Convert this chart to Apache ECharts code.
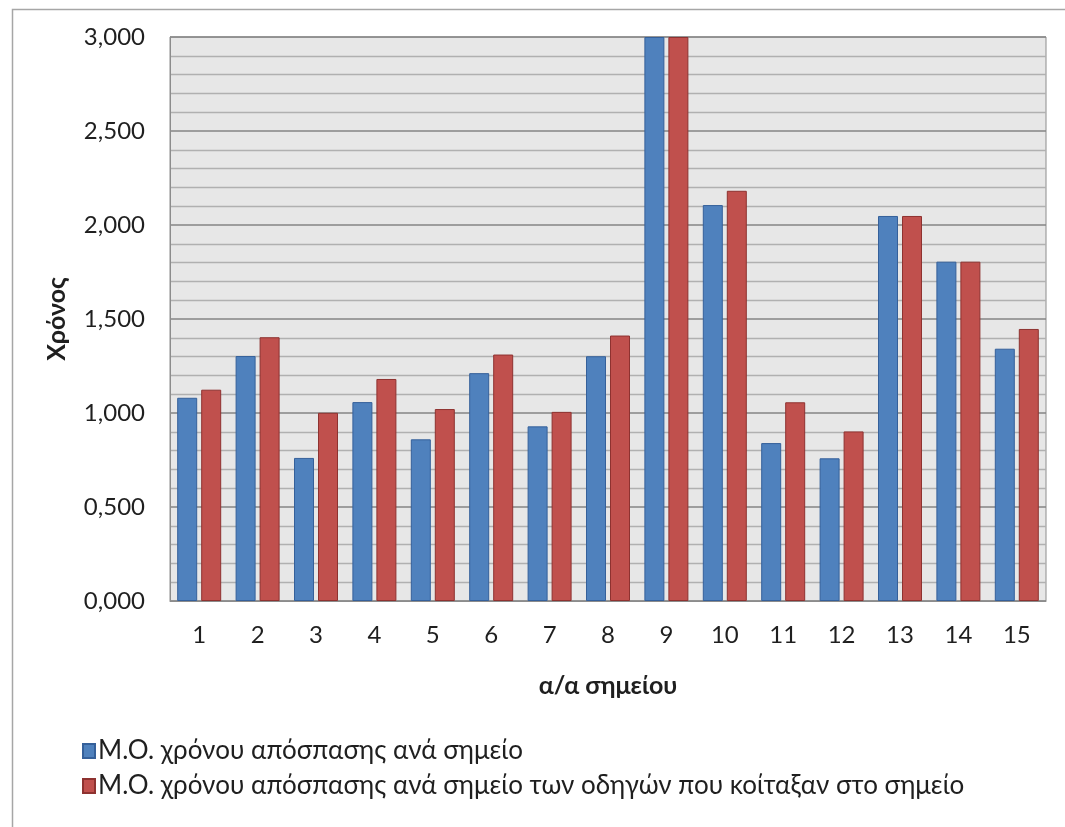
<!DOCTYPE html>
<html>
<head>
<meta charset="utf-8">
<style>
  html, body { margin: 0; padding: 0; background: #ffffff; }
  #chart { width: 1065px; height: 827px; }
</style>
<script src="https://cdn.jsdelivr.net/npm/echarts@6/dist/echarts.min.js"></script>
</head>
<body>
<div id="chart"></div>
<script>
// Measurement points (α/α σημείου)
const categories = ['1', '2', '3', '4', '5', '6', '7', '8', '9', '10', '11', '12', '13', '14', '15'];

// Mean distraction time per point
const meanAll = [1.081, 1.303, 0.761, 1.058, 0.860, 1.212, 0.929, 1.302, 3.000, 2.106, 0.840, 0.759, 2.048, 1.805, 1.342];
// Mean distraction time per point, drivers who looked at the point
const meanLooked = [1.124, 1.403, 1.001, 1.181, 1.021, 1.311, 1.006, 1.412, 3.000, 2.182, 1.057, 0.902, 2.048, 1.805, 1.447];

const seriesNames = [
  'Μ.Ο. χρόνου απόσπασης ανά σημείο',
  'Μ.Ο. χρόνου απόσπασης ανά σημείο των οδηγών που κοίταξαν στο σημείο'
];

const FONT = 'Lato, "Noto Sans", sans-serif';
const TEXT = '#1f1f1f';

const chart = echarts.init(document.getElementById('chart'), null, { renderer: 'canvas' });

chart.setOption({
  animation: false,
  backgroundColor: '#ffffff',
  textStyle: { fontFamily: FONT, color: TEXT },
  graphic: [{
    type: 'rect',
    left: 10, top: 7,
    shape: { width: 1080, height: 840 },
    style: { fill: 'none', stroke: '#a6a6a6', lineWidth: 1.5 },
    silent: true,
    z: -1
  }],
  grid: {
    left: 170, right: 19, top: 37, bottom: 226,
    show: true,
    backgroundColor: '#e7e7e7',
    borderColor: '#8c8c8c',
    borderWidth: 1
  },
  legend: {
    orient: 'vertical',
    left: 77, top: 733,
    itemWidth: 12, itemHeight: 14,
    itemGap: 9,
    icon: 'rect',
    textStyle: { fontFamily: FONT, fontSize: 26, color: TEXT, padding: [0, 0, 0, -2] },
    data: seriesNames
  },
  xAxis: {
    type: 'category',
    data: categories,
    name: 'α/α σημείου',
    nameLocation: 'middle',
    nameGap: 72,
    nameTextStyle: { fontFamily: FONT, fontSize: 25, fontWeight: 'bold', color: TEXT },
    axisLine: { lineStyle: { color: '#8c8c8c', width: 1 } },
    axisTick: { show: false },
    axisLabel: { fontFamily: FONT, fontSize: 24, color: TEXT, margin: 22 },
    splitLine: { show: false }
  },
  yAxis: {
    type: 'value',
    min: 0, max: 3, interval: 0.5,
    name: 'Χρόνος',
    nameLocation: 'middle',
    nameGap: 101,
    nameRotate: 90,
    nameTextStyle: { fontFamily: FONT, fontSize: 25, fontWeight: 'bold', color: TEXT },
    axisLine: { show: true, lineStyle: { color: '#8c8c8c', width: 1 } },
    axisTick: { show: false },
    axisLabel: {
      fontFamily: FONT, fontSize: 24, color: TEXT, margin: 25,
      formatter: v => v.toFixed(3).replace('.', ',')
    },
    splitLine: { show: true, lineStyle: { color: '#858585', width: 1.5 } },
    minorTick: { show: false, splitNumber: 5 },
    minorSplitLine: { show: true, lineStyle: { color: '#b0b0b0', width: 1.3 } }
  },
  series: [
    {
      name: seriesNames[0],
      type: 'bar',
      data: meanAll,
      barWidth: 20,
      barGap: '20%',
      itemStyle: { color: '#4f81bd', borderColor: '#35609a', borderWidth: 1 }
    },
    {
      name: seriesNames[1],
      type: 'bar',
      data: meanLooked,
      barWidth: 20,
      barGap: '20%',
      itemStyle: { color: '#c0504d', borderColor: '#8e3230', borderWidth: 1 }
    }
  ]
});
</script>
</body>
</html>
